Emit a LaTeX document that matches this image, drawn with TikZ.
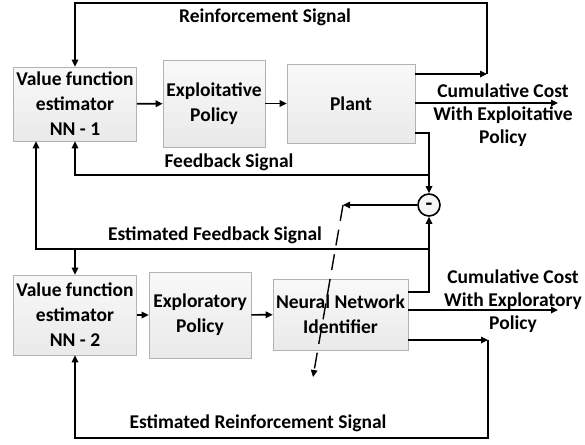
\documentclass[tikz,border=0pt]{standalone}
\usepackage{fontspec}
\setmainfont{Carlito}
\usetikzlibrary{arrows.meta,positioning,calc}

\begin{document}
\begin{tikzpicture}[x=1pt,y=1pt,line width=1.6pt,>={Triangle[length=7pt,width=6.5pt]},
    blk/.style={rectangle,draw=gray!60,line width=0.6pt,top color=gray!5,bottom color=gray!17,
        align=center,inner sep=0pt,font=\fontsize{19.5}{25}\selectfont\bfseries},
    lbl/.style={align=center,font=\fontsize{19.5}{23}\selectfont\bfseries},
    sumnode/.style={circle,draw,minimum size=22pt,inner sep=0pt,text height=10pt,text depth=0pt,
        fill=gray!8,font=\fontsize{22}{22}\selectfont\bfseries}]
	\useasboundingbox (0,0) rectangle (585,-444);
	% upper loop
	\node[blk,minimum width=123pt,minimum height=74pt] (vfa) at (75,-104) {Value function\\estimator\\NN - 1};
	\node[blk,minimum width=102pt,minimum height=87pt] (exa) at (214,-103.5) {Exploitative\\Policy};
	\node[blk,minimum width=128pt,minimum height=79pt] (plant) at (351,-103.5) {Plant};
	\node[sumnode] (sum) at (429,-205) {-};
	% lower loop
	\node[blk,minimum width=123pt,minimum height=80pt] (vfb) at (75,-315) {Value function\\estimator\\NN - 2};
	\node[blk,minimum width=102pt,minimum height=86pt] (exb) at (200,-315) {Exploratory\\Policy};
	\node[blk,minimum width=135pt,minimum height=71pt] (nni) at (340.5,-314.5) {Neural Network\\Identifier};
	% free ends and corners
	\coordinate (ra) at (487,-74);
	\coordinate (rtop) at (487,-3);
	\coordinate (ca) at (558,-103);
	\coordinate (fa) at (429,-133);
	\coordinate (fj) at (429,-175);
	\coordinate (sa) at (343,-205);
	\coordinate (da) at (313,-377);
	\coordinate (ej) at (429,-249);
	\coordinate (eb) at (429,-292);
	\coordinate (cb) at (558,-310);
	\coordinate (rb) at (488,-340);
	\coordinate (rbot) at (488,-438);
	\path[->]
		(vfa) edge (exa)
		(exa) edge (plant)
		(vfb) edge (exb)
		(exb) edge (nni);
	% reinforcement
	\draw[->] (plant.east |- ra) -- (ra);
	\draw[->] (ra) -- (rtop) -| (vfa.north);
	\draw[->] (plant.east |- ca) -- (ca);
	% feedback
	\draw[->] (plant.east |- fa) -- (fa) -- (sum.north);
	\draw[->] (fj) -| (vfa.south);
	\draw[->] (sum.west) -- (sa);
	\draw[->,dash pattern=on 16pt off 9pt,line width=1.4pt] (sa) -- (da);
	% estimated signals
	\draw[->] (nni.east |- eb) -- (eb) -- (sum.south);
	\draw[->] (ej) -| ([xshift=-39pt]vfa.south);
	\draw[->] (vfb.north |- ej) -- (vfb.north);
	\draw[->] (nni.east |- cb) -- (cb);
	\draw[->] (nni.east |- rb) -- (rb);
	\draw[->] (rb) -- (rbot) -| (vfb.south);
	% labels
	\node[lbl] (lra) at (265,-17) {Reinforcement Signal};
	\node[lbl] (lca) at (503,-115) {Cumulative Cost\\With Exploitative\\Policy};
	\node[lbl] (lfa) at (229,-162) {Feedback Signal};
	\node[lbl] (lfb) at (215,-235) {Estimated Feedback Signal};
	\node[lbl] (lcb) at (513,-301) {Cumulative Cost\\With Exploratory\\Policy};
	\node[lbl] (lrb) at (258,-423) {Estimated Reinforcement Signal};
\end{tikzpicture}
\end{document}
